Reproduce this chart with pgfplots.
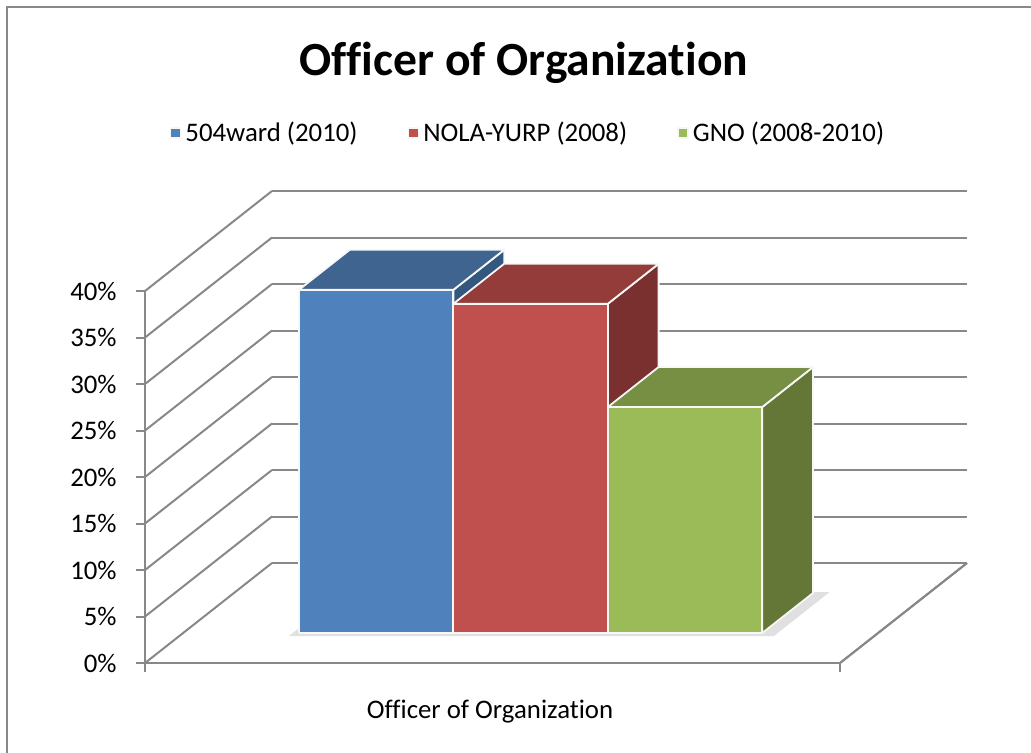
\documentclass[border=0pt]{standalone}
\usepackage{pgfplots}
\pgfplotsset{compat=1.18}
\usepackage{fontspec}
\setmainfont{Carlito}[Ligatures=NoCommon]
\definecolor{gridc}{HTML}{888888}
\definecolor{bF}{HTML}{4F81BD}
\definecolor{bT}{HTML}{3F6490}
\definecolor{bS}{HTML}{34577F}
\definecolor{rF}{HTML}{C0504D}
\definecolor{rT}{HTML}{943C3A}
\definecolor{rS}{HTML}{7A302E}
\definecolor{gF}{HTML}{9BBB59}
\definecolor{gT}{HTML}{778F43}
\definecolor{gS}{HTML}{657737}
\newcommand{\nfont}{\fontsize{13.4pt}{16pt}\selectfont}
\begin{document}
\begin{tikzpicture}
\begin{axis}[
  at={(0pt,0pt)}, anchor=origin,
  disabledatascaling,
  x={(77.22pt,0pt)}, y={(63.5pt,50pt)}, z={(0pt,4.65pt)},
  xmin=0, xmax=4.5, ymin=0, ymax=1, zmin=0, zmax=40,
  axis lines=left,
  axis line style={draw=gridc, line width=1pt, -},
  xtick=\empty,
  ytick=\empty,
  ztick={0,5,...,40},
  zticklabels={},
  major tick length=0pt,
  zmajorgrids,
  grid style={draw=gridc, line width=1pt},
  clip=false,
  legend columns=3,
  legend style={at={(axis description cs:0.467,1.123)}, anchor=center, draw=none, fill=none, font=\nfont,
    /tikz/every even column/.append style={column sep=23pt}},
  legend image code/.code={\fill[#1] (0pt,-2.5pt) rectangle (5pt,2.5pt);},
]
\addlegendimage{fill=bF}
\addlegendimage{fill=rF}
\addlegendimage{fill=gF}
\legend{504ward (2010), NOLA-YURP (2008), GNO (2008-2010)}

% ticks and tick labels of the value axis
\pgfplotsinvokeforeach{0,5,10,15,20,25,30,35,40}{
  \draw[gridc, line width=1pt] (axis cs:-0.058,0,#1) -- (axis cs:0,0,#1);
  \node[anchor=east, font=\nfont, inner sep=0pt] at (axis cs:-0.181,0,#1) {#1\%};
}
% category axis ticks
\draw[gridc, line width=1pt] (axis cs:0,0,0) -- (axis cs:0,0,-0.97);
\draw[gridc, line width=1pt] (axis cs:4.5,0,0) -- (axis cs:4.5,0,-0.97);

% right floor edge
\addplot3[draw=gridc, line width=1pt, mark=none, forget plot] coordinates {(4.5,0,0) (4.5,1,0)};
% shadow
\addplot3[fill=black, fill opacity=0.12, draw=none, mark=none, forget plot] coordinates {(0.71,0.27,0) (3.85,0.27,0) (3.85,0.71,0) (0.71,0.71,0)};

\pgfplotsset{every axis plot/.append style={draw=white!94!gray, line width=0.9pt, line join=round, mark=none, forget plot}}
% 504ward (2010): 36.9
\addplot3[fill=bS] coordinates {(1.75,0.3,0) (1.75,0.7,0) (1.75,0.7,36.9) (1.75,0.3,36.9) (1.75,0.3,0)};
\addplot3[fill=bF] coordinates {(0.75,0.3,0) (1.75,0.3,0) (1.75,0.3,36.9) (0.75,0.3,36.9) (0.75,0.3,0)};
\addplot3[fill=bT] coordinates {(0.75,0.3,36.9) (1.75,0.3,36.9) (1.75,0.7,36.9) (0.75,0.7,36.9) (0.75,0.3,36.9)};
% NOLA-YURP (2008): 35.4
\addplot3[fill=rS] coordinates {(2.75,0.3,0) (2.75,0.7,0) (2.75,0.7,35.4) (2.75,0.3,35.4) (2.75,0.3,0)};
\addplot3[fill=rF] coordinates {(1.75,0.3,0) (2.75,0.3,0) (2.75,0.3,35.4) (1.75,0.3,35.4) (1.75,0.3,0)};
\addplot3[fill=rT] coordinates {(1.75,0.3,35.4) (2.75,0.3,35.4) (2.75,0.7,35.4) (1.75,0.7,35.4) (1.75,0.3,35.4)};
% GNO (2008-2010): 24.3
\addplot3[fill=gS] coordinates {(3.75,0.3,0) (3.75,0.7,0) (3.75,0.7,24.3) (3.75,0.3,24.3) (3.75,0.3,0)};
\addplot3[fill=gF] coordinates {(2.75,0.3,0) (3.75,0.3,0) (3.75,0.3,24.3) (2.75,0.3,24.3) (2.75,0.3,0)};
\addplot3[fill=gT] coordinates {(2.75,0.3,24.3) (3.75,0.3,24.3) (3.75,0.7,24.3) (2.75,0.7,24.3) (2.75,0.3,24.3)};
\end{axis}
\node[font=\bfseries\fontsize{23.8pt}{28pt}\selectfont, anchor=base] at (189.5pt,294pt) {Officer of Organization};
\node[font=\nfont, anchor=base] at (172.5pt,-27.5pt) {Officer of Organization};
\pgfresetboundingbox
\path[use as bounding box] (-72.5pt,-44.5pt) rectangle (443pt,331.5pt);
\draw[gridc, line width=1pt] (-69pt,-50pt) -- (-69pt,328pt) -- (450pt,328pt);
\end{tikzpicture}
\end{document}
